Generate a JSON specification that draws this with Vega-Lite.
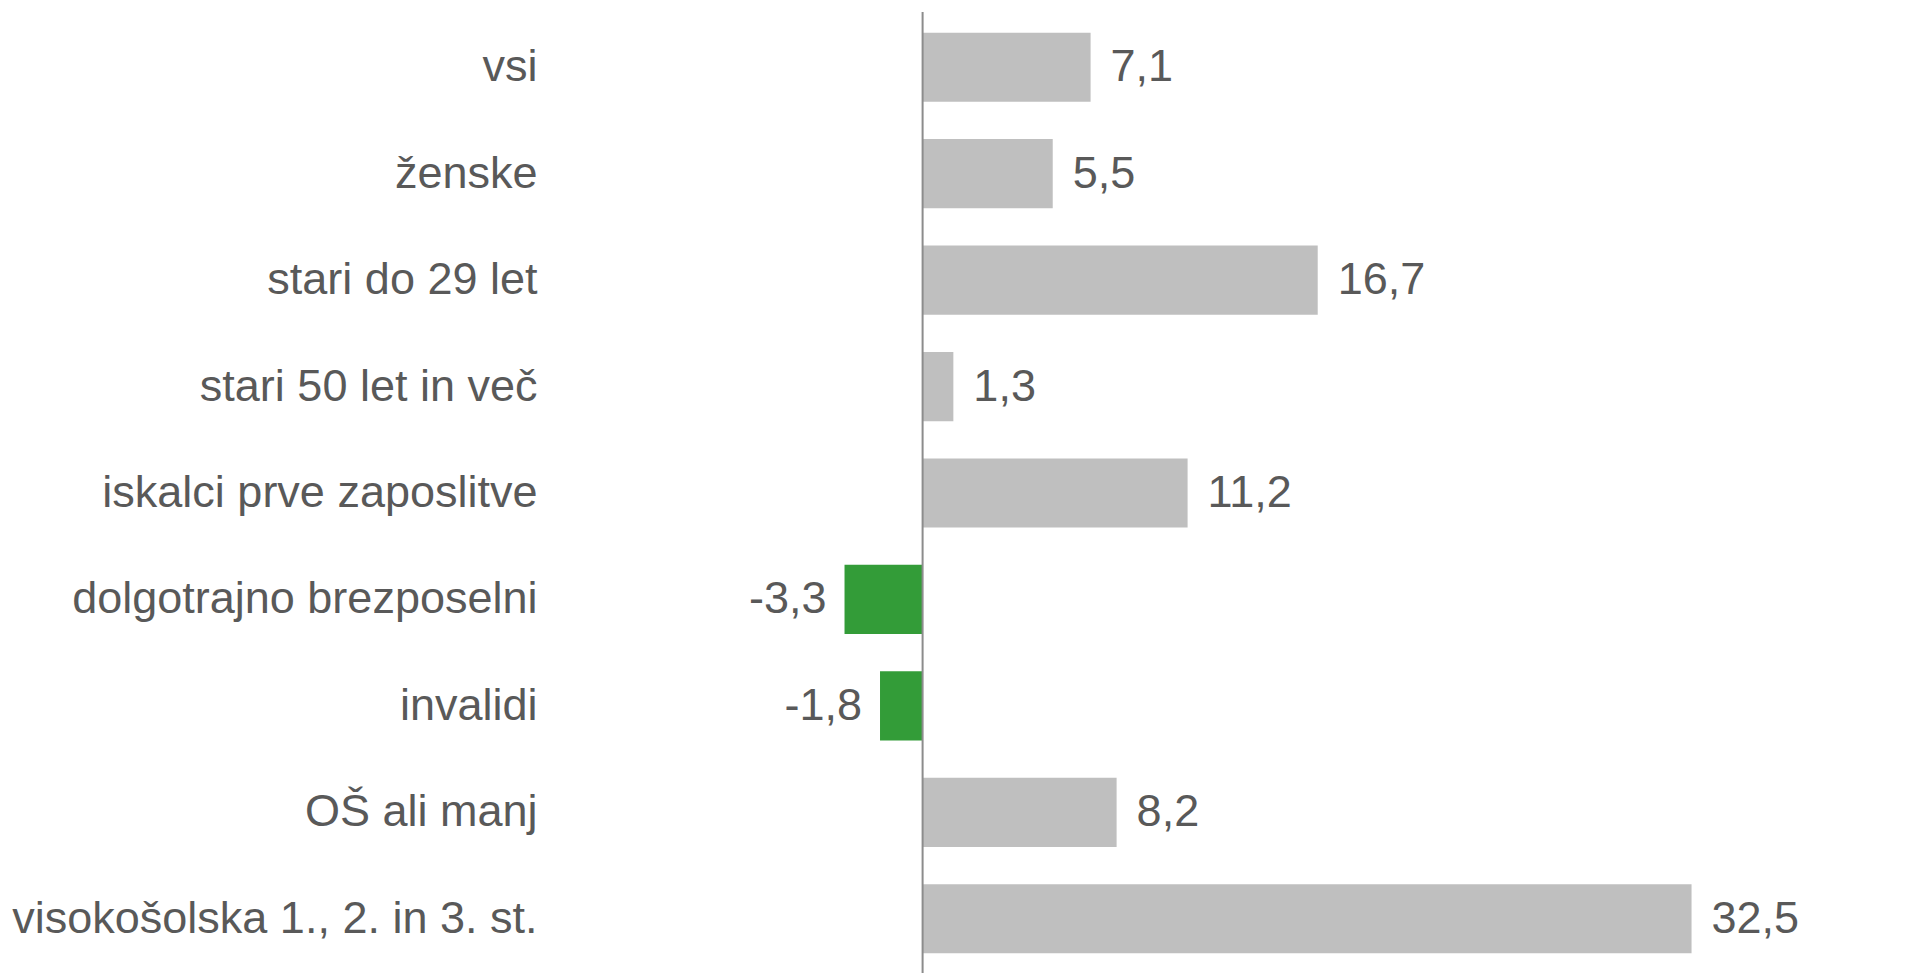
{
  "$schema": "https://vega.github.io/schema/vega-lite/v6.json",
  "autosize": "none",
  "width": 1183,
  "height": 958,
  "padding": {"left": 686, "top": 14, "right": 37, "bottom": 1},
  "background": "white",
  "config": {
    "view": {"stroke": null},
    "font": "Liberation Sans",
    "locale": {"number": {"decimal": ",", "thousands": ".", "grouping": [3], "currency": ["", " €"], "minus": "-"}}
  },
  "data": {
    "values": [
      {"skupina": "vsi", "vrednost": 7.1},
      {"skupina": "ženske", "vrednost": 5.5},
      {"skupina": "stari do 29 let", "vrednost": 16.7},
      {"skupina": "stari 50 let in več", "vrednost": 1.3},
      {"skupina": "iskalci prve zaposlitve", "vrednost": 11.2},
      {"skupina": "dolgotrajno brezposelni", "vrednost": -3.3},
      {"skupina": "invalidi", "vrednost": -1.8},
      {"skupina": "OŠ ali manj", "vrednost": 8.2},
      {"skupina": "visokošolska 1., 2. in 3. st.", "vrednost": 32.5}
    ]
  },
  "layer": [
    {
      "mark": {"type": "bar"},
      "encoding": {
        "y": {
          "field": "skupina",
          "type": "nominal",
          "sort": null,
          "scale": {"paddingInner": 0.35, "paddingOuter": 0.175},
          "axis": {
            "title": null,
            "domain": false,
            "ticks": false,
            "labelPadding": 149,
            "labelFontSize": 45,
            "labelColor": "#595959",
            "labelFont": "Liberation Sans",
            "labelLimit": 800
          }
        },
        "x": {
          "field": "vrednost",
          "type": "quantitative",
          "scale": {"domain": [-10, 40], "nice": false, "zero": false},
          "axis": null
        },
        "color": {
          "condition": {"test": "datum.vrednost < 0", "value": "#339c38"},
          "value": "#bfbfbf"
        }
      }
    },
    {
      "mark": {"type": "text", "align": "left", "dx": 20, "fontSize": 45, "color": "#595959", "baseline": "middle"},
      "transform": [{"filter": "datum.vrednost >= 0"}],
      "encoding": {
        "y": {"field": "skupina", "type": "nominal", "sort": null},
        "x": {"field": "vrednost", "type": "quantitative"},
        "text": {"field": "vrednost", "type": "quantitative", "format": ".1f"}
      }
    },
    {
      "mark": {"type": "text", "align": "right", "dx": -18, "fontSize": 45, "color": "#595959", "baseline": "middle"},
      "transform": [{"filter": "datum.vrednost < 0"}],
      "encoding": {
        "y": {"field": "skupina", "type": "nominal", "sort": null},
        "x": {"field": "vrednost", "type": "quantitative"},
        "text": {"field": "vrednost", "type": "quantitative", "format": ".1f"}
      }
    },
    {
      "data": {"values": [{"nic": 0}]},
      "mark": {"type": "rule", "color": "#8c8c8c", "strokeWidth": 2, "y": -2, "y2": 960},
      "encoding": {
        "x": {"field": "nic", "type": "quantitative"}
      }
    }
  ]
}
